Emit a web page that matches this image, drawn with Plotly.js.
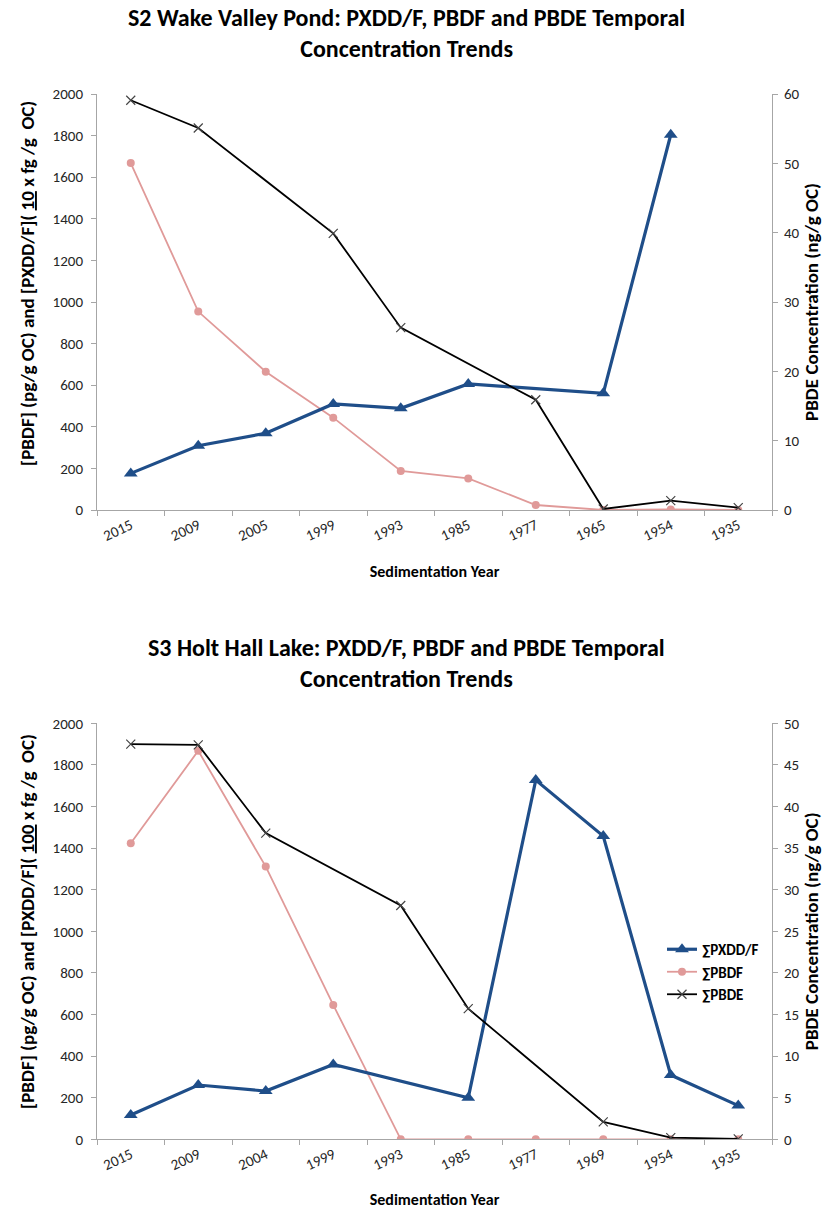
<!DOCTYPE html>
<html>
<head>
<meta charset="utf-8">
<script src="https://cdn.plot.ly/plotly-3.0.1.min.js"></script>
<style>
  html, body { margin: 0; padding: 0; background: #ffffff; }
  #chart { width: 823px; height: 1209px; }
</style>
</head>
<body>
<div id="chart"></div>
<script>
// Sedimentation years (core slices, newest to oldest)
const yearsS2 = ['2015', '2009', '2005', '1999', '1993', '1985', '1977', '1965', '1954', '1935'];
const yearsS3 = ['2015', '2009', '2004', '1999', '1993', '1985', '1977', '1969', '1954', '1935'];

// S2 Wake Valley Pond
const pxddS2 = [176, 309, 369, 510, 489, 606, null, 561, 1804, null];   // 10 x fg/g OC
const pbdfS2 = [1668, 954, 665, 444, 188, 152, 24, 0, 3, 0];            // pg/g OC
const pbdeS2 = [59.1, 55.1, null, 39.9, 26.3, null, 15.9, 0.15, 1.35, 0.35]; // ng/g OC

// S3 Holt Hall Lake
const pxddS3 = [117, 261, 232, 360, null, 200, 1727, 1458, 309, 162];   // 100 x fg/g OC
const pbdfS3 = [1423, 1868, 1311, 646, 0, 0, 0, 0, 0, 0];               // pg/g OC
const pbdeS3 = [47.5, 47.4, 36.8, null, 28.1, 15.7, null, 2.1, 0.2, 0.05]; // ng/g OC

const seriesNames = ['∑PXDD/F', '∑PBDF', '∑PBDE'];

const FONT = 'Carlito, "Liberation Sans", Arial, sans-serif';
const BLUE = '#1f4e89';
const PINK = '#e09a99';
const BLACK = '#000000';

function pbdfTrace(x, y, xa, ya, show) {
  return {
    x: x, y: y, xaxis: xa, yaxis: ya, type: 'scatter', mode: 'lines+markers',
    name: seriesNames[1], legendrank: 2, showlegend: show, connectgaps: true,
    line: { color: PINK, width: 1.8 },
    marker: { symbol: 'circle', size: 8, color: PINK }
  };
}
function pxddTrace(x, y, xa, ya, show) {
  return {
    x: x, y: y, xaxis: xa, yaxis: ya, type: 'scatter', mode: 'lines+markers',
    name: seriesNames[0], legendrank: 1, showlegend: show, connectgaps: true,
    line: { color: BLUE, width: 3.2 },
    marker: { symbol: 'triangle-up', size: 12, color: BLUE }
  };
}
function pbdeTrace(x, y, xa, ya, show) {
  return {
    x: x, y: y, xaxis: xa, yaxis: ya, type: 'scatter', mode: 'lines+markers',
    name: seriesNames[2], legendrank: 3, showlegend: show, connectgaps: true,
    line: { color: BLACK, width: 1.8 },
    marker: { symbol: 'x-thin-open', size: 9, color: '#444444', line: { width: 1.2, color: '#444444' } }
  };
}

const data = [
  pbdfTrace(yearsS2, pbdfS2, 'x', 'y', false),
  pxddTrace(yearsS2, pxddS2, 'x', 'y', false),
  pbdeTrace(yearsS2, pbdeS2, 'x', 'y2', false),
  pbdfTrace(yearsS3, pbdfS3, 'x2', 'y3', true),
  pxddTrace(yearsS3, pxddS3, 'x2', 'y3', true),
  pbdeTrace(yearsS3, pbdeS3, 'x2', 'y4', true)
];

const W = 823, H = 1209;
const xDom = [97 / W, 772 / W];
const domS2 = [1 - 510 / H, 1 - 94 / H];
const domS3 = [1 - 1139.3 / H, 1 - 723.3 / H];

const AXIS_LINE = '#a6a6a6';
const tickFont = { family: FONT, size: 15, color: '#262626' };
const yTitleFont = { family: FONT, size: 19, color: '#000000' };
const xTitleFont = { family: FONT, size: 16, color: '#000000' };
const headFont = { family: FONT, size: 24, color: '#000000' };

function xAxis(cats, anchor) {
  return {
    type: 'category', categoryorder: 'array', categoryarray: cats,
    domain: xDom, anchor: anchor, range: [-0.5, 9.5],
    tickson: 'boundaries', ticks: 'outside', ticklen: 5, tickcolor: AXIS_LINE,
    showline: true, linecolor: AXIS_LINE, linewidth: 1,
    showgrid: false, zeroline: false, tickangle: -25,
    tickfont: tickFont,
    title: { text: '<b>Sedimentation Year</b>', font: xTitleFont, standoff: 22 }
  };
}
function leftAxis(dom, anchor) {
  return {
    domain: dom, anchor: anchor, range: [0, 2000], dtick: 200,
    ticks: 'outside', ticklen: 5, tickcolor: AXIS_LINE, ticklabelstandoff: 5,
    showline: true, linecolor: AXIS_LINE, linewidth: 1,
    showgrid: false, zeroline: false, tickfont: tickFont
  };
}
function rightAxis(overlay, anchor, maxV, step) {
  return {
    overlaying: overlay, anchor: anchor, side: 'right',
    range: [0, maxV], dtick: step,
    ticks: 'outside', ticklen: 5, tickcolor: AXIS_LINE, ticklabelstandoff: 3,
    showline: true, linecolor: AXIS_LINE, linewidth: 1,
    showgrid: false, zeroline: false, tickfont: tickFont,
    title: { text: '<b>PBDE Concentration (ng/g OC)</b>', font: yTitleFont, standoff: 6 }
  };
}

// Titles and left-axis titles placed in pixel terms on the page
function note(text, font, px, py, angle) {
  return {
    text: text, font: font, xref: 'paper', yref: 'paper',
    x: px / W, y: 1 - py / H, xanchor: 'center', yanchor: 'middle',
    showarrow: false, textangle: angle || 0
  };
}

const layout = {
  width: W, height: H,
  margin: { l: 0, r: 0, t: 0, b: 0 },
  paper_bgcolor: '#ffffff', plot_bgcolor: '#ffffff',
  font: { family: FONT, color: '#000000' },
  xaxis: xAxis(yearsS2, 'y'),
  yaxis: leftAxis(domS2, 'x'),
  yaxis2: rightAxis('y', 'x', 60, 10),
  xaxis2: xAxis(yearsS3, 'y3'),
  yaxis3: leftAxis(domS3, 'x2'),
  yaxis4: rightAxis('y3', 'x2', 50, 5),
  annotations: [
    note('<b>S2 Wake Valley Pond: PXDD/F, PBDF and PBDE Temporal<br>Concentration Trends</b>', headFont, 406, 33),
    note('<b>S3 Holt Hall Lake: PXDD/F, PBDF and PBDE Temporal<br>Concentration Trends</b>', headFont, 406, 663),
    note('<b>[PBDF] (pg/g OC) and [PXDD/F]( <u>10</u> x fg /g  OC)</b>', yTitleFont, 27, 284, -90),
    note('<b>[PBDF] (pg/g OC) and [PXDD/F]( <u>100</u> x fg /g  OC)</b>', yTitleFont, 27, 922, -90)
  ],
  legend: {
    x: 662 / W, y: 1 - 933 / H, xanchor: 'left', yanchor: 'top',
    bgcolor: 'rgba(0,0,0,0)', borderwidth: 0,
    font: { family: FONT, size: 15, color: '#000000', weight: 'bold' },
    tracegroupgap: 0, itemwidth: 30
  },
  showlegend: true
};

Plotly.newPlot('chart', data, layout, { displayModeBar: false, staticPlot: true });
</script>
</body>
</html>
